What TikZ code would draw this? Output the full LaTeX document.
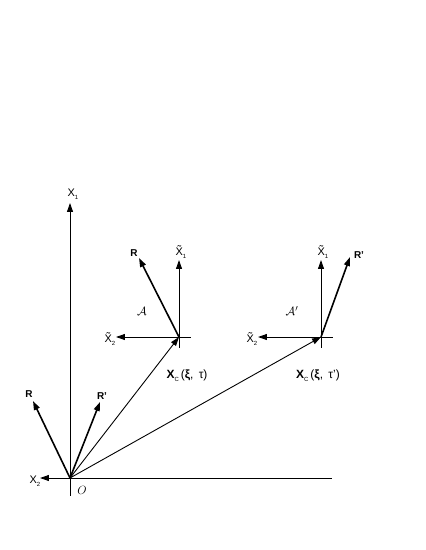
\documentclass[tikz,border=0pt]{standalone}
\usepackage{fontspec}
\setmainfont{Liberation Sans}
\usetikzlibrary{arrows.meta,positioning,calc}
\tikzset{
  axisline/.style={-{Triangle[length=9pt,width=6pt]}, line width=0.9pt},
  plainline/.style={line width=0.9pt},
  vecline/.style={-{Triangle[length=9pt,width=6pt]}, line width=1.6pt},
  lbl/.style={font=\fontsize{11}{13}\selectfont, inner sep=0pt},
  blbl/.style={font=\fontsize{10}{12}\selectfont\bfseries, inner sep=0pt},
}
\newcommand{\lowsub}[1]{\raisebox{-3pt}{\fontsize{6}{6}\selectfont #1}}
\newcommand{\tX}{\~{X}}

\begin{document}
\begin{tikzpicture}[x=1bp,y=-1bp]
    \useasboundingbox (0,0) rectangle (425,550);
    % Fixed frame at the origin
    \coordinate (O) at (70,478);
    \coordinate (x1tip) at (70,203);
    \coordinate (x2tip) at (40,478);
    \coordinate (xend) at (332,478);
    \coordinate (obot) at (70,496);
    \draw[axisline] (O) -- (x1tip);
    \draw[axisline] (O) -- (x2tip);
    \draw[plainline] (O) -- (xend);
    \draw[plainline] (O) -- (obot);
    \node[lbl] (x1lbl) at (73,194) {X\lowsub{1}};
    \node[lbl] (x2lbl) at (35,481) {X\lowsub{2}};
    \node[lbl, font=\fontsize{12}{14}\selectfont] (olbl) at (82,490) {$O$};
    % Bodies A and A'
    \coordinate (A) at (179,337);
    \coordinate (B) at (321,337);
    \foreach \b in {A,B} {
      \coordinate (\b up) at ($(\b)+(0,-77)$);
      \coordinate (\b left) at ($(\b)+(-63,0)$);
      \coordinate (\b right) at ($(\b)+(12,0)$);
      \coordinate (\b down) at ($(\b)+(0,11)$);
      \draw[axisline] (\b) -- (\b up);
      \draw[axisline] (\b) -- (\b left);
      \draw[plainline] (\b) -- (\b right);
      \draw[plainline] (\b) -- (\b down);
      \draw[axisline] (O) -- (\b);
    }
    \node[lbl] (a1lbl) at (181,252) {\tX\lowsub{1}};
    \node[lbl] (a2lbl) at (110,339) {\tX\lowsub{2}};
    \node[lbl] (b1lbl) at (323,252) {\tX\lowsub{1}};
    \node[lbl] (b2lbl) at (252,339) {\tX\lowsub{2}};
    \node[lbl, font=\fontsize{13}{15}\selectfont] (alabel) at (142,311) {$\mathcal{A}$};
    \node[lbl, font=\fontsize{13}{15}\selectfont] (blabel) at (292,311) {$\mathcal{A}'$};
    \node[lbl, font=\fontsize{12}{14}\selectfont] (xca) at (187,376) {{\bfseries X}\lowsub{C}\,({\bfseries ξ}, \,τ)};
    \node[lbl, font=\fontsize{12}{14}\selectfont] (xcb) at (318,376) {{\bfseries X}\lowsub{C}\,({\bfseries ξ}, \,τ')};
    % Vectors R and R'
    \coordinate (ra) at (139,258);
    \coordinate (rb) at (350,257);
    \coordinate (ro) at (33,401);
    \coordinate (rpo) at (100,402);
    \draw[vecline] (A) -- (ra);
    \draw[vecline] (B) -- (rb);
    \draw[vecline] (O) -- (ro);
    \draw[vecline] (O) -- (rpo);
    \node[blbl] (ralbl) at (134,253) {R};
    \node[blbl] (rblbl) at (359,255) {R'};
    \node[blbl] (rolbl) at (29,394) {R};
    \node[blbl] (rpolbl) at (102,396) {R'};
\end{tikzpicture}
\end{document}
